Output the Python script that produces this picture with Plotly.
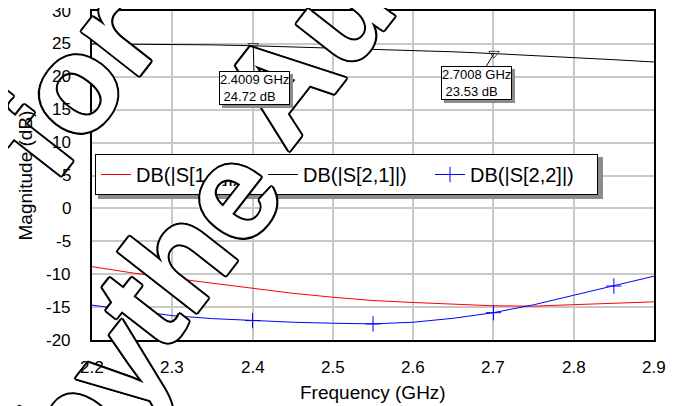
import plotly.graph_objects as go

# ---------------- data ----------------
freq_ghz = [2.20, 2.25, 2.30, 2.35, 2.40, 2.45, 2.50, 2.55, 2.60, 2.65, 2.70, 2.75, 2.80, 2.85, 2.90]
s11_db = [-8.85, -9.8, -10.6, -11.4, -12.15, -12.9, -13.5, -14.0, -14.3, -14.6, -14.8, -14.85, -14.6, -14.45, -14.2]
s21_db = [25.0, 24.98, 24.92, 24.85, 24.72, 24.55, 24.38, 24.2, 24.0, 23.8, 23.53, 23.25, 22.95, 22.6, 22.25]
s22_db = [-14.7, -15.45, -16.3, -16.75, -17.05, -17.3, -17.45, -17.55, -17.3, -16.7, -15.85, -14.65, -13.2, -11.8, -10.3]
s22_marker_freqs = [2.25, 2.40, 2.55, 2.70, 2.85]

marker_freqs = [2.4009, 2.7008]
marker_vals = [24.72, 23.53]
marker_labels = ["2.4009 GHz<br>\u00a024.72 dB", "2.7008 GHz<br>\u00a023.53 dB"]

x_ticks = [2.2, 2.3, 2.4, 2.5, 2.6, 2.7, 2.8, 2.9]
x_tick_labels = ["2.2", "2.3", "2.4", "2.5", "2.6", "2.7", "2.8", "2.9"]
y_ticks = [30, 25, 20, 15, 10, 5, 0, -5, -10, -15, -20]
y_tick_labels = ["30", "25", "20", "15", "10", "5", "0", "-5", "-10", "-15", "-20"]

series_names = ["DB(|S[1,1]|)", "DB(|S[2,1]|)", "DB(|S[2,2]|)"]
x_title = "Frequency (GHz)"
y_title = "Magnitude (dB)"
watermark_words = ["for", "the", "Au", "by"]

FONT = "Liberation Sans, Arial, sans-serif"

# page body has an 8px margin: the figure is shifted, so margins are compensated
FIG_W, FIG_H = 669, 398
ML, MR, MT, MB = 84, 23, 3, 66
PLOT_W = FIG_W - ML - MR
PLOT_H = FIG_H - MT - MB


def px(x, y):
    """reference-page pixel -> paper coordinates"""
    return (x - 8 - ML) / PLOT_W, (FIG_H - MB - (y - 8)) / PLOT_H


fig = go.Figure()
fig.add_trace(go.Scatter(x=freq_ghz, y=s11_db, mode="lines", name=series_names[0],
                         line=dict(color="#ff0000", width=1)))
fig.add_trace(go.Scatter(x=freq_ghz, y=s21_db, mode="lines", name=series_names[1],
                         line=dict(color="#000000", width=1)))
fig.add_trace(go.Scatter(x=freq_ghz, y=s22_db, mode="lines", name=series_names[2], showlegend=False,
                         line=dict(color="#0000ff", width=1)))
mk_y = [s22_db[freq_ghz.index(f)] for f in s22_marker_freqs]
fig.add_trace(go.Scatter(x=s22_marker_freqs, y=mk_y, mode="markers", showlegend=False,
                         marker=dict(symbol="cross-thin", size=11, color="#0000ff",
                                     line=dict(color="#0000ff", width=1))))
# legend entry for S22 (line + cross)
fig.add_trace(go.Scatter(x=[None], y=[None], mode="lines+markers", name=series_names[2],
                         line=dict(color="#0000ff", width=1),
                         marker=dict(symbol="cross-thin", size=11, color="#0000ff",
                                     line=dict(color="#0000ff", width=1))))
# marker triangles
fig.add_trace(go.Scatter(x=marker_freqs, y=marker_vals, mode="markers", showlegend=False,
                         marker=dict(symbol="triangle-down-open", size=9, color="#444444",
                                     line=dict(color="#444444", width=1))))

# ---- watermark (outlined text), drawn first so other texts sit on top ----
outline = ("2px 0 0 #000, -2px 0 0 #000, 0 2px 0 #000, 0 -2px 0 #000, "
           "1.5px 1.5px 0 #000, -1.5px -1.5px 0 #000, 1.5px -1.5px 0 #000, -1.5px 1.5px 0 #000")
wm_pos = [(72, 84), (188, 246), (306, 52), (92, 398)]
for txt, (cx, cy) in zip(watermark_words, wm_pos):
    xp, yp = px(cx, cy)
    fig.add_annotation(x=xp, y=yp, xref="paper", yref="paper", text=txt, showarrow=False,
                       textangle=-52, xanchor="center", yanchor="middle",
                       font=dict(family=FONT, size=138, color="#ffffff", weight="bold",
                                 shadow=outline))

# ---- marker label boxes (shadow + box) ----
offsets = [(1, 42), (-18, 29)]
for f, v, lab, (ax, ay) in zip(marker_freqs, marker_vals, marker_labels, offsets):
    fig.add_annotation(x=f, y=v, xref="x", yref="y", text=lab, showarrow=True,
                       arrowcolor="rgba(0,0,0,0)", ax=ax, ay=ay, xshift=3, yshift=-3,
                       align="left", bgcolor="#8c8c8c", bordercolor="#8c8c8c", borderwidth=1,
                       borderpad=0, font=dict(family=FONT, size=13, color="#8c8c8c"))
    fig.add_annotation(x=f, y=v, xref="x", yref="y", text=lab, showarrow=True,
                       arrowhead=0, arrowwidth=1, arrowcolor="#000000", ax=ax, ay=ay,
                       align="left", bgcolor="#ffffff", bordercolor="#000000", borderwidth=1,
                       borderpad=0, font=dict(family=FONT, size=13, color="#000000"))

# ---- tick labels and axis titles (on top of the watermark) ----
tick_font = dict(family=FONT, size=17, color="#000000")
for v, lab in zip(y_ticks, y_tick_labels):
    fig.add_annotation(x=0, y=v, xref="paper", yref="y", text=lab, showarrow=False,
                       xanchor="right", yanchor="middle", xshift=-19, font=tick_font)
for v, lab in zip(x_ticks, x_tick_labels):
    fig.add_annotation(x=v, y=0, xref="x", yref="paper", text=lab, showarrow=False,
                       xanchor="center", yanchor="middle", yshift=-27, font=tick_font)
title_font = dict(family=FONT, size=19, color="#000000")
fig.add_annotation(x=0.5, y=0, xref="paper", yref="paper", text=x_title, showarrow=False,
                   xanchor="center", yanchor="middle", yshift=-52, font=title_font)
fig.add_annotation(x=0, y=0.5, xref="paper", yref="paper", text=y_title, showarrow=False,
                   textangle=-90, xanchor="center", yanchor="middle", xshift=-67, font=title_font)

# legend shadow
x0, y0 = px(98, 157)
x1, y1 = px(603, 199)
fig.add_shape(type="rect", xref="paper", yref="paper", x0=x0, y0=y0, x1=x1, y1=y1,
              fillcolor="#8c8c8c", line=dict(width=0), layer="above")

axis_common = dict(showgrid=True, gridcolor="#c8c8c8", gridwidth=1.5,
                   showline=True, linecolor="#000000", linewidth=2, mirror=True,
                   ticks="", zeroline=False, automargin=False, showticklabels=False)

fig.update_xaxes(range=[2.2, 2.9], tickvals=x_ticks, **axis_common)
fig.update_yaxes(range=[-20, 30], tickvals=y_ticks, **axis_common)

lx, ly = px(95, 154)
fig.update_layout(
    width=FIG_W, height=FIG_H,
    margin=dict(l=ML, r=MR, t=MT, b=MB),
    paper_bgcolor="#ffffff", plot_bgcolor="#ffffff",
    font=dict(family=FONT, color="#000000"),
    legend=dict(orientation="h", x=lx, y=ly, xanchor="left", yanchor="top",
                bgcolor="#ffffff", bordercolor="#000000", borderwidth=1,
                font=dict(family=FONT, size=20, color="#000000"),
                entrywidth=122),
    showlegend=True,
)

fig.write_html("out.html")
